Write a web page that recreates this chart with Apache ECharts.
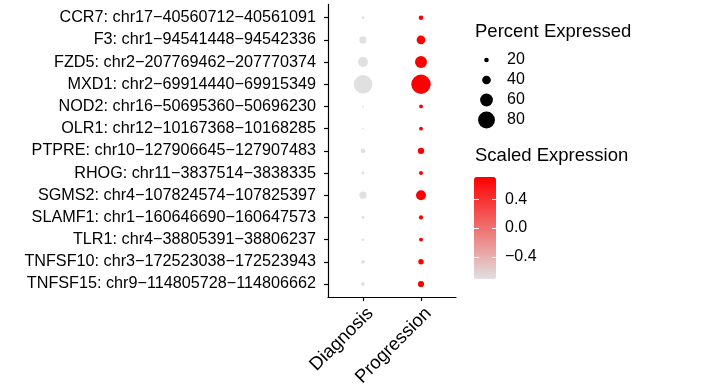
<!DOCTYPE html>
<html>
<head>
<meta charset="utf-8">
<script src="https://cdn.jsdelivr.net/npm/echarts@6/dist/echarts.min.js"></script>
<style>html,body{margin:0;padding:0;background:#fff;}#c{width:702px;height:392px;}</style>
</head>
<body>
<div id="c"></div>
<script>
// ---- data ----
const features = [
  'CCR7: chr17\u221240560712\u221240561091',
  'F3: chr1\u221294541448\u221294542336',
  'FZD5: chr2\u2212207769462\u2212207770374',
  'MXD1: chr2\u221269914440\u221269915349',
  'NOD2: chr16\u221250695360\u221250696230',
  'OLR1: chr12\u221210167368\u221210168285',
  'PTPRE: chr10\u2212127906645\u2212127907483',
  'RHOG: chr11\u22123837514\u22123838335',
  'SGMS2: chr4\u2212107824574\u2212107825397',
  'SLAMF1: chr1\u2212160646690\u2212160647573',
  'TLR1: chr4\u221238805391\u221238806237',
  'TNFSF10: chr3\u2212172523038\u2212172523943',
  'TNFSF15: chr9\u2212114805728\u2212114806662'
];
const groups = ['Diagnosis', 'Progression'];
const pctDiagnosis   = [11, 33, 46, 88, 7, 6, 20, 12, 33, 12, 11, 16, 16];
const pctProgression = [20, 40, 56, 92, 16, 16, 29, 17, 46, 18, 17, 24, 28];
const scaledDiagnosis   = -0.7071;
const scaledProgression = 0.7071;
const sizeLegendValues = [20, 40, 60, 80];
const colorTicks = [-0.4, 0.0, 0.4];

// ---- build ----
const pts = [];
features.forEach((f, i) => {
  pts.push([0, i, pctDiagnosis[i], scaledDiagnosis]);
  pts.push([1, i, pctProgression[i], scaledProgression]);
});
const sizeFn = v => 0.205 * v[2] + 0.5;
const FONT = 'Liberation Sans';

const chart = echarts.init(document.getElementById('c'), null, {renderer: 'canvas'});
chart.setOption({
  animation: false,
  backgroundColor: '#ffffff',
  textStyle: {fontFamily: FONT, color: '#000'},
  title: [
    {text: 'Percent Expressed', left: 475, top: 22, padding: 0,
     textStyle: {fontFamily: FONT, fontSize: 18.5, fontWeight: 'normal', color: '#000'}},
    {text: 'Scaled Expression', left: 475, top: 146.5, padding: 0,
     textStyle: {fontFamily: FONT, fontSize: 18.5, fontWeight: 'normal', color: '#000'}}
  ],
  grid: [
    {left: 328, top: 4.4, width: 128, height: 292.9},      // axis lines frame
    {left: 334, top: 6.6, width: 116, height: 288.5},      // data
    {left: 474, top: 177, width: 22, height: 102},         // colorbar ticks
    {left: 476.5, top: 50, width: 20, height: 80}          // size legend
  ],
  xAxis: [
    {gridIndex: 0, type: 'value', min: 0, max: 1, axisLabel: {show: false}, axisTick: {show: false},
     splitLine: {show: false}, axisLine: {show: true, lineStyle: {color: '#000', width: 1.2}}},
    {gridIndex: 1, type: 'category', data: groups, offset: 2,
     axisLine: {show: false}, splitLine: {show: false},
     axisTick: {show: true, alignWithLabel: true, length: 4, lineStyle: {color: '#000', width: 1.2}},
     axisLabel: {rotate: 45, fontSize: 18.5, color: '#000', margin: 6, fontFamily: FONT,
       align: 'right', verticalAlign: 'top', padding: [1, 0, 0, 0], interval: 0}},
    {gridIndex: 2, type: 'value', show: false, min: 0, max: 1},
    {gridIndex: 3, type: 'value', show: false, min: -1, max: 1}
  ],
  yAxis: [
    {gridIndex: 0, type: 'value', min: 0, max: 1, axisLabel: {show: false}, axisTick: {show: false},
     splitLine: {show: false}, axisLine: {show: true, lineStyle: {color: '#000', width: 1.2}}},
    {gridIndex: 1, type: 'category', data: features, inverse: true, offset: 6,
     axisLine: {show: false}, splitLine: {show: false},
     axisTick: {show: true, alignWithLabel: true, length: 4, lineStyle: {color: '#000', width: 1.2}},
     axisLabel: {fontSize: 16.2, color: '#000', margin: 12, fontFamily: FONT, interval: 0}},
    {gridIndex: 2, type: 'value', position: 'left', min: -0.7071, max: 0.7071, z: 10,
     axisLine: {show: false}, splitLine: {show: false}, axisLabel: {show: false},
     axisTick: {show: true, inside: true, length: 5, customValues: colorTicks, lineStyle: {color: '#fff', width: 1}}},
    {gridIndex: 2, type: 'value', position: 'right', min: -0.7071, max: 0.7071, z: 10,
     axisLine: {show: false}, splitLine: {show: false},
     axisTick: {show: true, inside: true, length: 4, customValues: colorTicks, lineStyle: {color: '#fff', width: 1}},
     axisLabel: {show: true, customValues: colorTicks, margin: 9, fontSize: 16, color: '#000', fontFamily: FONT,
       formatter: v => v.toFixed(1).replace('-', '\u2212')}},
    {gridIndex: 3, type: 'category', data: sizeLegendValues.map(String), inverse: true, position: 'right',
     axisLine: {show: false}, axisTick: {show: false}, splitLine: {show: false},
     axisLabel: {margin: 10.5, fontSize: 16, color: '#000', fontFamily: FONT, interval: 0}}
  ],
  visualMap: [{
    type: 'continuous', seriesIndex: 0, dimension: 3,
    min: -0.7071, max: 0.7071, calculable: false, hoverLink: false,
    left: 474, top: 177, itemWidth: 22, itemHeight: 102, padding: 0,
    inRange: {color: ['#E0E0E0', '#FF0000']}
  }],
  series: [
    {type: 'scatter', xAxisIndex: 1, yAxisIndex: 1, data: pts, symbolSize: sizeFn,
     itemStyle: {opacity: 1}, emphasis: {disabled: true}},
    {type: 'scatter', xAxisIndex: 3, yAxisIndex: 4,
     data: sizeLegendValues.map(v => [0, String(v), v]), symbolSize: sizeFn,
     itemStyle: {color: '#000', opacity: 1}, emphasis: {disabled: true}}
  ]
});
</script>
</body>
</html>
